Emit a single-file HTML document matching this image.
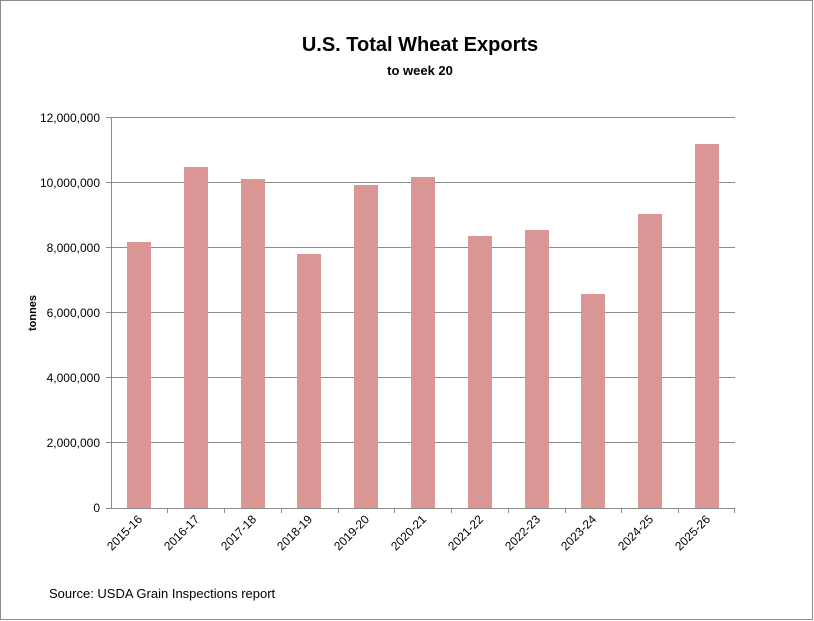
<!DOCTYPE html>
<html><head><style>
body{margin:0;background:#fff;}
svg{display:block;font-family:"Liberation Sans",Calibri,sans-serif;}
</style></head><body>
<svg width="814" height="621" viewBox="0 0 814 621">
<rect x="0.5" y="0.5" width="812" height="619" fill="#fff" stroke="#8c8c8c"/>
<text x="420" y="51" text-anchor="middle" font-size="20" font-weight="bold">U.S. Total Wheat Exports</text>
<text x="420" y="75" text-anchor="middle" font-size="13" font-weight="bold">to week 20</text>
<g stroke="#8c8c8c" stroke-width="1">
<line x1="111" y1="117.5" x2="735" y2="117.5"/>
<line x1="111" y1="182.5" x2="735" y2="182.5"/>
<line x1="111" y1="247.5" x2="735" y2="247.5"/>
<line x1="111" y1="312.5" x2="735" y2="312.5"/>
<line x1="111" y1="377.5" x2="735" y2="377.5"/>
<line x1="111" y1="442.5" x2="735" y2="442.5"/>
</g>
<g fill="#d99694">
<rect x="127" y="242" width="24" height="266"/>
<rect x="184" y="167" width="24" height="341"/>
<rect x="241" y="179" width="24" height="329"/>
<rect x="297" y="254" width="24" height="254"/>
<rect x="354" y="185" width="24" height="323"/>
<rect x="411" y="177" width="24" height="331"/>
<rect x="468" y="236" width="24" height="272"/>
<rect x="525" y="230" width="24" height="278"/>
<rect x="581" y="294" width="24" height="214"/>
<rect x="638" y="214" width="24" height="294"/>
<rect x="695" y="144" width="24" height="364"/>
</g>
<g stroke="#8c8c8c" stroke-width="1">
<line x1="111.5" y1="117" x2="111.5" y2="508"/>
<line x1="106" y1="508.5" x2="735" y2="508.5"/>
<line x1="106" y1="117.5" x2="111" y2="117.5"/>
<line x1="106" y1="182.5" x2="111" y2="182.5"/>
<line x1="106" y1="247.5" x2="111" y2="247.5"/>
<line x1="106" y1="312.5" x2="111" y2="312.5"/>
<line x1="106" y1="377.5" x2="111" y2="377.5"/>
<line x1="106" y1="442.5" x2="111" y2="442.5"/>
<line x1="167.5" y1="508" x2="167.5" y2="513"/>
<line x1="224.5" y1="508" x2="224.5" y2="513"/>
<line x1="281.5" y1="508" x2="281.5" y2="513"/>
<line x1="338.5" y1="508" x2="338.5" y2="513"/>
<line x1="394.5" y1="508" x2="394.5" y2="513"/>
<line x1="451.5" y1="508" x2="451.5" y2="513"/>
<line x1="508.5" y1="508" x2="508.5" y2="513"/>
<line x1="565.5" y1="508" x2="565.5" y2="513"/>
<line x1="621.5" y1="508" x2="621.5" y2="513"/>
<line x1="678.5" y1="508" x2="678.5" y2="513"/>
<line x1="734.5" y1="508" x2="734.5" y2="513"/>
</g>
<g font-size="12" text-anchor="end" fill="#000">
<text x="100" y="122">12,000,000</text>
<text x="100" y="187">10,000,000</text>
<text x="100" y="252">8,000,000</text>
<text x="100" y="317">6,000,000</text>
<text x="100" y="382">4,000,000</text>
<text x="100" y="447">2,000,000</text>
<text x="100" y="512">0</text>
</g>
<text transform="translate(36,313) rotate(-90)" font-size="11" font-weight="bold" text-anchor="middle">tonnes</text>
<g font-size="12" text-anchor="end">
<text transform="translate(143,520) rotate(-45)">2015-16</text>
<text transform="translate(200,520) rotate(-45)">2016-17</text>
<text transform="translate(257,520) rotate(-45)">2017-18</text>
<text transform="translate(313,520) rotate(-45)">2018-19</text>
<text transform="translate(370,520) rotate(-45)">2019-20</text>
<text transform="translate(427,520) rotate(-45)">2020-21</text>
<text transform="translate(484,520) rotate(-45)">2021-22</text>
<text transform="translate(541,520) rotate(-45)">2022-23</text>
<text transform="translate(597,520) rotate(-45)">2023-24</text>
<text transform="translate(654,520) rotate(-45)">2024-25</text>
<text transform="translate(711,520) rotate(-45)">2025-26</text>
</g>
<text x="49" y="598" font-size="13">Source: USDA Grain Inspections report</text>
</svg>
</body></html>
